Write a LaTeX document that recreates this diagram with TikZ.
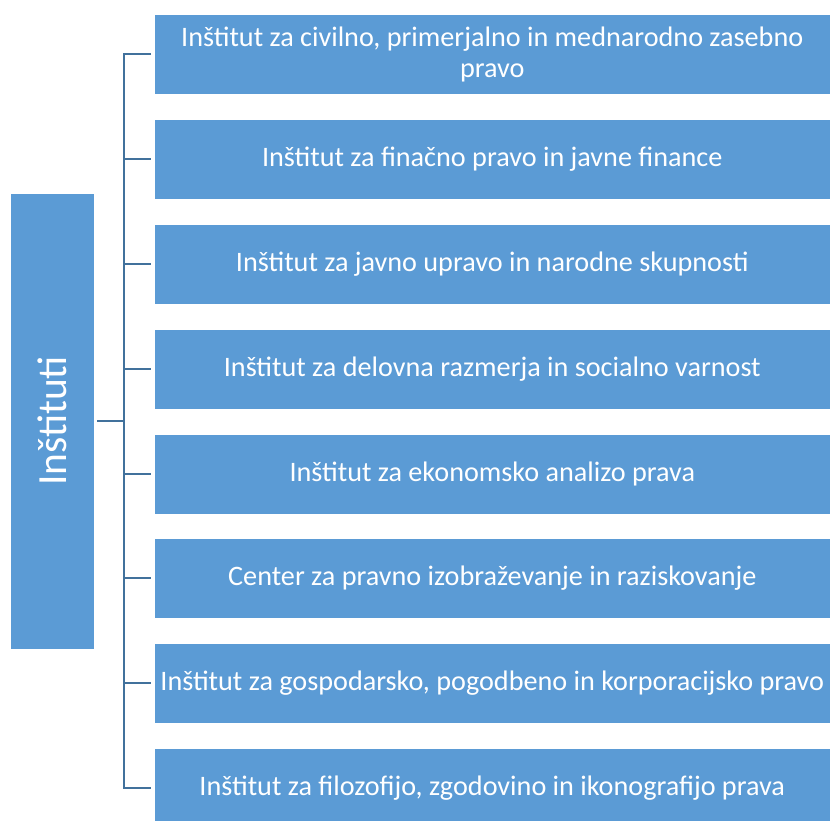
\documentclass[tikz,border=0pt]{standalone}
\usepackage{fontspec}
\setmainfont{Carlito}
\definecolor{boxblue}{HTML}{5B9BD5}
\definecolor{linkblue}{HTML}{41719C}
\begin{document}
\begin{tikzpicture}[x=1pt,y=-1pt,
  inst/.style={fill=boxblue,draw=white,line width=0.6pt,minimum width=676pt,minimum height=80pt,
    inner sep=0pt,anchor=west,text=white,align=center,font=\fontsize{28.2}{31}\selectfont},
  root/.style={fill=boxblue,draw=white,line width=0.6pt,minimum width=84pt,minimum height=456pt,
    inner sep=0pt,text=white},
  link/.style={draw=linkblue,line width=2.3pt}]
\useasboundingbox (0,0) rectangle (830,821);
\clip (0,0) rectangle (830,821);
\node[root] (r) at (52,421) {};
\node[rotate=90,text=white,font=\fontsize{41.5}{50}\selectfont] (rt) at (r.center) {Inštituti};
\node[inst] (b1) at (154,54) {Inštitut za civilno, primerjalno in mednarodno zasebno\\pravo};
\node[inst] (b2) at (154,159) {Inštitut za finačno pravo in javne finance};
\node[inst] (b3) at (154,264) {Inštitut za javno upravo in narodne skupnosti};
\node[inst] (b4) at (154,369) {Inštitut za delovna razmerja in socialno varnost};
\node[inst] (b5) at (154,474) {Inštitut za ekonomsko analizo prava};
\node[inst] (b6) at (154,578) {Center za pravno izobraževanje in raziskovanje};
\node[inst] (b7) at (154,683) {Inštitut za gospodarsko, pogodbeno in korporacijsko pravo};
\node[inst] (b8) at (154,788) {Inštitut za filozofijo, zgodovino in ikonografijo prava};
\coordinate (trunk) at (124,421);
\draw[link] ([xshift=3pt]r.east) -- (trunk);
\draw[link] ([xshift=-3pt]b1.west) -- ++(-27,0) coordinate (top) -- (top |- b8.west) -- ([xshift=-3pt]b8.west);
\foreach \b in {b2,b3,b4,b5,b6,b7}{
  \draw[link] (top |- \b.west) -- ([xshift=-3pt]\b.west);
}
\end{tikzpicture}
\end{document}
